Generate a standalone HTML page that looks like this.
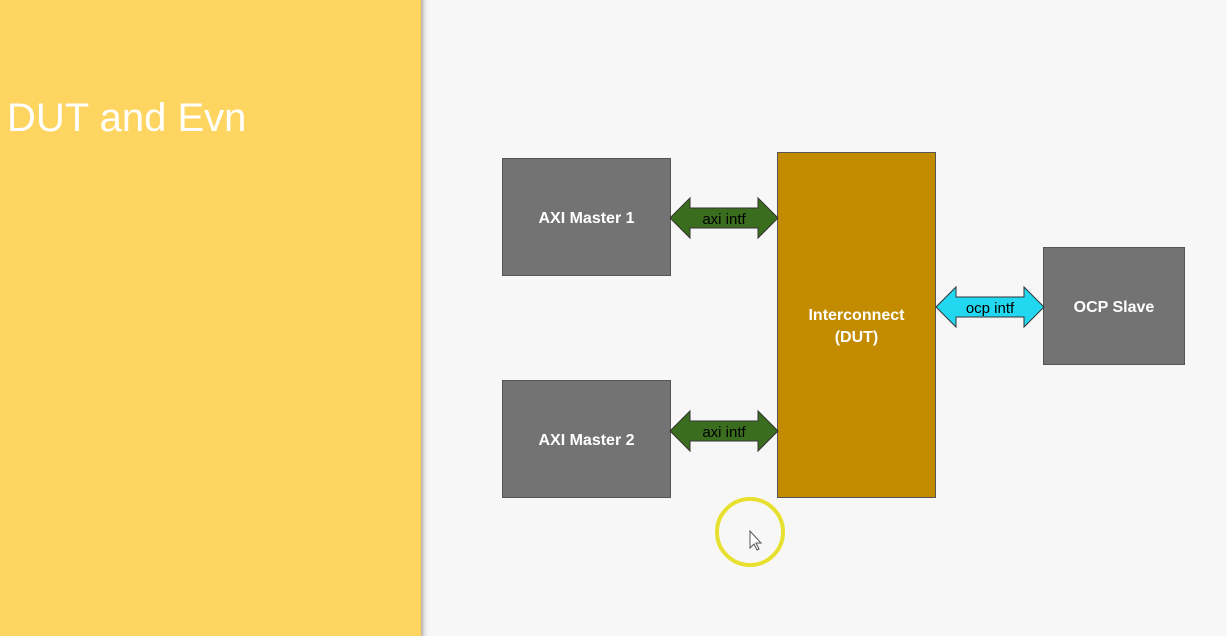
<!DOCTYPE html>
<html><head><style>
body{margin:0;width:1227px;height:636px;overflow:hidden;background:#f7f7f7;font-family:"Liberation Sans",sans-serif;position:relative}
.panel{position:absolute;left:0;top:0;width:421px;height:636px;background:#fed561}
.sh{position:absolute;left:421px;top:0;width:8px;height:636px;background:linear-gradient(to right,#b8b0a0,#e8e8ec,#f7f7f7)}
.title{position:absolute;left:7px;top:96px;font-size:40px;color:#fff}
.box{position:absolute;background:#737373;border:1px solid #555;color:#fff;font-weight:bold;font-size:16px;display:flex;align-items:center;justify-content:center;text-align:center;box-sizing:border-box;padding-top:3px}
</style></head><body>
<div class="panel"></div><div class="sh"></div>
<div class="title">DUT and Evn</div>
<div class="box" style="left:502px;top:158px;width:169px;height:118px">AXI Master 1</div>
<div class="box" style="left:502px;top:380px;width:169px;height:118px">AXI Master 2</div>
<div class="box" style="left:777px;top:152px;width:159px;height:346px;background:#c38c00;line-height:22px">Interconnect<br>(DUT)</div>
<div class="box" style="left:1043px;top:247px;width:142px;height:118px">OCP Slave</div>
<svg width="1227" height="636" style="position:absolute;left:0;top:0">
<g stroke="#333" stroke-width="1">
<polygon fill="#3a6d1e" points="670,218 690,198 690,208 758,208 758,198 778,218 758,238 758,228 690,228 690,238"/>
<polygon fill="#3a6d1e" points="670,431 690,411 690,421 758,421 758,411 778,431 758,451 758,441 690,441 690,451"/>
<polygon fill="#22d8f0" points="936,307 956,287 956,297 1024,297 1024,287 1044,307 1024,327 1024,317 956,317 956,327"/>
</g>
<g font-family="Liberation Sans" font-size="15" fill="#000" text-anchor="middle">
<text x="724" y="224">axi intf</text>
<text x="724" y="437">axi intf</text>
<text x="990" y="313">ocp intf</text>
</g>
<circle cx="750" cy="532" r="33" fill="none" stroke="#e8e030" stroke-width="4"/>
<path d="M750,531 l0,17 l4,-4 l3,6 l2,-1 l-3,-6 l5,0 z" fill="#fff" stroke="#555" stroke-width="1"/>
</svg>
</body></html>
